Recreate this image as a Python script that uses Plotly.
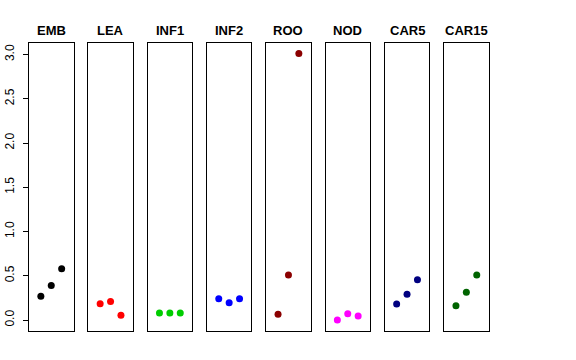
import plotly.graph_objects as go

categories = ["EMB", "LEA", "INF1", "INF2", "ROO", "NOD", "CAR5", "CAR15"]
colors = ["#000000", "#FF0000", "#00CD00", "#0000FF", "#8B0000", "#FF00FF", "#000080", "#006400"]
values = [
    [0.27, 0.39, 0.58],
    [0.185, 0.21, 0.055],
    [0.08, 0.08, 0.08],
    [0.24, 0.195, 0.24],
    [0.065, 0.51, 3.01],
    [0.0, 0.07, 0.045],
    [0.18, 0.29, 0.455],
    [0.16, 0.315, 0.51],
]
positions = [1, 2, 3]
y_ticks = [0.0, 0.5, 1.0, 1.5, 2.0, 2.5, 3.0]

W, H = 576, 360
left0, pw, step = 29, 44.5, 59.3
top_px, bot_px = 43, 331
title_px = 30
y_range = [-0.124, 3.13]
x_range = [-0.14, 4.14]

fig = go.Figure()
layout = dict(
    width=W, height=H,
    margin=dict(l=0, r=0, t=0, b=0, autoexpand=False),
    paper_bgcolor="white", plot_bgcolor="white",
    showlegend=False,
    font=dict(family="Liberation Sans, Arial, sans-serif", color="black"),
)
annotations = []
for i, (cat, col, vals) in enumerate(zip(categories, colors, values)):
    n = "" if i == 0 else str(i + 1)
    fig.add_trace(go.Scatter(
        x=positions, y=vals, mode="markers",
        marker=dict(color=col, size=7),
        xaxis="x" + n, yaxis="y" + n, hoverinfo="skip",
    ))
    x0 = (left0 + i * step) / W
    x1 = (left0 + i * step + pw) / W
    layout["xaxis" + n] = dict(
        domain=[x0, x1], range=x_range, anchor="y" + n, automargin=False,
        showgrid=False, zeroline=False, showticklabels=False, ticks="",
        showline=True, linecolor="black", linewidth=1, mirror=True,
    )
    yax = dict(
        domain=[1 - bot_px / H, 1 - top_px / H], range=y_range, anchor="x" + n,
        automargin=False, showgrid=False, zeroline=False,
        showline=True, linecolor="black", linewidth=1, mirror=True,
    )
    if i == 0:
        yax.update(
            tickvals=y_ticks, ticktext=[f"{v:.1f}" for v in y_ticks],
            ticks="outside", ticklen=5, tickcolor="black", tickwidth=1,
            tickangle=-90, tickfont=dict(size=12, color="black"),
            ticklabelstandoff=4,
        )
    else:
        yax.update(showticklabels=False, ticks="")
    layout["yaxis" + n] = yax
    annotations.append(dict(
        x=(x0 + x1) / 2, y=1 - title_px / H, xref="paper", yref="paper",
        text="<b>" + cat + "</b>", showarrow=False,
        font=dict(size=13, color="black"), xanchor="center", yanchor="middle",
    ))
layout["annotations"] = annotations
fig.update_layout(**layout)
fig.write_html(
    "out.html",
    config={"displayModeBar": False},
    post_script="document.body.style.margin='0px';document.body.style.padding='0px';",
)
